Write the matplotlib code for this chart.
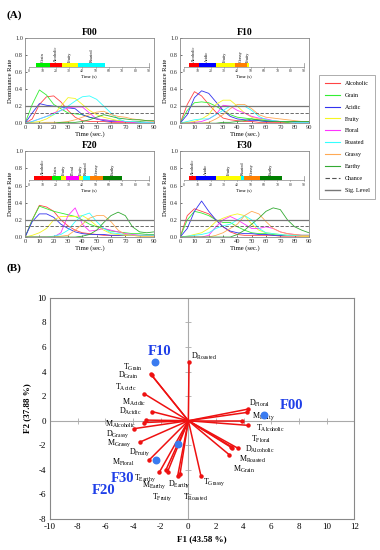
import matplotlib
matplotlib.use('Agg')
import matplotlib.pyplot as plt
from matplotlib.lines import Line2D
import numpy as np

plt.rcParams['font.family'] = 'Liberation Serif'
plt.rcParams['mathtext.fontset'] = 'custom'
plt.rcParams['mathtext.rm'] = 'Liberation Serif'
plt.rcParams['mathtext.it'] = 'Liberation Serif:italic'
plt.rcParams['mathtext.bf'] = 'Liberation Serif:bold'
plt.rcParams['axes.unicode_minus'] = False

# ---------- data: panel A (TDS curves) ----------
times = [0, 5, 10, 15, 20, 25, 30, 35, 40, 45, 50, 55, 60, 65, 70, 75, 80, 85, 90]
attributes = ['Alcoholic', 'Grain', 'Acidic', 'Fruity', 'Floral', 'Roasted', 'Grassy', 'Earthy']
chance_level = 0.125
sig_level = 0.2

f00 = {
    'Alcoholic': [0, .05, .22, .31, .32, .25, .15, .07, .03, .02, .02, .02, .01, .01, .01, .01, .01, .01, .01],
    'Grain':     [0, .22, .39, .33, .22, .17, .12, .11, .10, .07, .05, .04, .03, .03, .02, .02, .02, .01, .01],
    'Acidic':    [0, .12, .23, .21, .20, .19, .18, .17, .10, .07, .05, .03, .02, .02, .02, .02, .01, .01, .01],
    'Fruity':    [0, .01, .02, .05, .10, .20, .30, .29, .22, .15, .10, .07, .05, .03, .02, .02, .01, .01, .01],
    'Floral':    [0, .02, .05, .08, .12, .15, .18, .19, .19, .12, .05, .04, .03, .02, .02, .01, .01, .01, .01],
    'Roasted':   [0, .02, .05, .08, .10, .15, .20, .26, .31, .32, .28, .20, .12, .05, .02, .02, .01, .01, .01],
    'Grassy':    [0, 0, 0, .01, .01, .01, .02, .04, .07, .10, .13, .14, .10, .08, .07, .05, .04, .03, .02],
    'Earthy':    [0, 0, 0, 0, 0, .01, .01, .01, .02, .04, .07, .10, .08, .06, .05, .04, .04, .03, .03],
}
f10 = {
    'Alcoholic': [0, .22, .37, .32, .22, .13, .06, .04, .03, .02, .02, .01, .01, .01, .01, .01, .01, .01, .01],
    'Grain':     [0, .15, .24, .25, .24, .20, .15, .10, .07, .06, .05, .03, .02, .02, .02, .01, .01, .01, .01],
    'Acidic':    [0, .10, .30, .38, .35, .25, .15, .08, .05, .04, .03, .03, .02, .02, .02, .02, .02, .02, .02],
    'Fruity':    [0, .01, .02, .05, .10, .22, .27, .27, .20, .12, .07, .05, .04, .03, .02, .02, .01, .01, .01],
    'Floral':    [0, 0, .01, .02, .05, .10, .21, .20, .15, .12, .08, .06, .05, .03, .02, .02, .01, .01, .01],
    'Roasted':   [0, .02, .04, .05, .05, .10, .15, .20, .20, .20, .15, .08, .04, .03, .02, .02, .01, .01, .01],
    'Grassy':    [0, 0, 0, 0, .01, .05, .10, .17, .22, .22, .17, .10, .07, .06, .05, .04, .03, .02, .02],
    'Earthy':    [0, 0, 0, 0, 0, 0, .01, .01, .02, .03, .05, .04, .03, .02, .02, .02, .02, .02, .02],
}
f20 = {
    'Alcoholic': [0, .20, .37, .35, .30, .20, .13, .08, .05, .04, .03, .02, .02, .02, .02, .02, .02, .02, .02],
    'Grain':     [0, .20, .36, .33, .30, .28, .26, .24, .20, .15, .12, .10, .07, .06, .05, .04, .04, .03, .03],
    'Acidic':    [0, .18, .27, .27, .23, .15, .10, .06, .04, .03, .03, .03, .02, .02, .02, .02, .02, .02, .02],
    'Fruity':    [0, .02, .05, .10, .20, .24, .24, .24, .25, .20, .13, .08, .04, .03, .02, .02, .01, .01, .01],
    'Floral':    [0, 0, 0, 0, 0, .05, .25, .34, .15, .07, .08, .10, .08, .06, .04, .03, .02, .02, .02],
    'Roasted':   [0, 0, 0, 0, .01, .03, .08, .18, .25, .28, .18, .10, .05, .04, .03, .02, .02, .02, .02],
    'Grassy':    [0, 0, 0, 0, 0, .01, .02, .08, .15, .22, .25, .25, .18, .08, .03, .02, .01, .01, .01],
    'Earthy':    [0, 0, 0, 0, 0, 0, 0, 0, .01, .03, .08, .17, .25, .29, .25, .12, .06, .05, .06],
}
f30 = {
    'Alcoholic': [0, .25, .33, .30, .27, .20, .12, .06, .03, .02, .02, .02, .02, .02, .01, .01, .01, .01, .01],
    'Grain':     [0, .20, .30, .28, .25, .20, .17, .17, .12, .08, .05, .04, .04, .03, .02, .02, .02, .02, .02],
    'Acidic':    [0, .10, .30, .42, .30, .20, .12, .07, .05, .04, .04, .03, .03, .02, .02, .02, .02, .02, .02],
    'Fruity':    [0, .01, .03, .05, .10, .18, .22, .25, .27, .25, .15, .08, .05, .04, .03, .02, .02, .01, .01],
    'Floral':    [0, 0, 0, 0, .02, .12, .20, .24, .20, .15, .10, .10, .12, .10, .06, .04, .03, .02, .02],
    'Roasted':   [0, .01, .02, .03, .05, .10, .13, .15, .20, .25, .20, .10, .05, .04, .03, .02, .02, .02, .02],
    'Grassy':    [0, 0, 0, 0, 0, .02, .05, .10, .15, .25, .30, .27, .18, .10, .06, .04, .03, .02, .02],
    'Earthy':    [0, 0, 0, 0, 0, 0, 0, 0, .03, .08, .15, .22, .30, .34, .32, .20, .12, .08, .05],
}

# dominant attribute bands (start, end, attribute)
f00_bands = [(5, 16, 'Grain'), (16, 25, 'Alcoholic'), (25, 37, 'Fruity'), (37, 57, 'Roasted')]
f10_bands = [(4, 11, 'Alcoholic'), (11, 24, 'Acidic'), (24, 38, 'Fruity'), (38, 47, 'Grassy'),
             (47, 49, 'Fruity')]
f20_bands = [(4, 17, 'Alcoholic'), (17, 24, 'Grain'), (24, 28, 'Fruity'), (28, 37.5, 'Floral'),
             (37.5, 40.5, 'Fruity'), (40.5, 45.5, 'Roasted'), (45.5, 56, 'Grassy'), (56, 70, 'Earthy')]
f30_bands = [(4, 9, 'Alcoholic'), (9, 24, 'Acidic'), (24, 43, 'Fruity'), (43, 45, 'Roasted'),
             (45, 57, 'Grassy'), (57, 74, 'Earthy')]

# ---------- data: panel B (PCA biplot) ----------
vec_names = ['D_Roasted', 'T_Grain', 'D_Grain', 'T_Acidic', 'M_Acidic', 'D_Acidic', 'M_Alcoholic',
             'D_Grassy', 'M_Grassy', 'D_Fruity', 'M_Floral', 'T_Earthy', 'M_Earthy', 'T_Fruity',
             'D_Earthy', 'T_Roasted', 'T_Grassy', 'D_Floral', 'M_Fruity', 'T_Alcoholic', 'T_Floral',
             'D_Alcoholic', 'M_Roasted', 'M_Grain']
vec_x = [0.05, -2.72, -2.65, -3.2, -2.65, -3.05, -3.2, -3.95, -3.5, -2.82, 3.1, -2.1, -1.64, -1.5,
         -0.77, -0.6, 0.92, 4.35, 4.27, 4.34, 3.9, 3.57, 3.18, 2.96]
vec_y = [4.75, 3.8, 3.7, 2.2, 0.75, 0.05, -0.15, -0.65, -1.74, -3.18, -2.1, -4.2, -4.05, -4.15,
         -4.48, -4.32, -4.53, 0.95, 0.68, -0.38, 0.0, -2.23, -2.23, -2.77]
lab_x = [0.17, -4.7, -5.06, -5.3, -4.82, -5.0, -6.02, -5.95, -5.86, -4.27, -5.54, -3.93, -3.37, -2.65,
         -1.45, -0.36, 1.08, 4.41, 4.58, 4.89, 4.5, 4.1, 3.69, 3.2]
lab_y = [5.2, 4.37, 3.7, 2.74, 1.52, 0.76, -0.27, -1.06, -1.82, -2.52, -3.39, -4.67, -5.21, -6.22,
         -5.13, -6.22, -5.02, 1.44, 0.41, -0.6, -1.49, -2.36, -3.18, -3.94]

obs_names = ['F00', 'F10', 'F20', 'F30']
obs_x = [5.47, -2.41, -2.36, -0.77]
obs_y = [0.43, 4.75, -3.23, -1.87]
obs_lab_x = [7.47, -2.05, -6.14, -4.77]
obs_lab_y = [1.22, 5.65, -5.7, -4.67]

# ---------- styles ----------
line_colors = {'Alcoholic': '#ff4444', 'Grain': '#33ee33', 'Acidic': '#3333ee', 'Fruity': '#f5f522',
               'Floral': '#ff33ff', 'Roasted': '#33ffff', 'Grassy': '#ffaa55', 'Earthy': '#33aa33'}
band_colors = {'Alcoholic': '#ff0000', 'Grain': '#00ee00', 'Acidic': '#0000ff', 'Fruity': '#ffff00',
               'Floral': '#ff00ff', 'Roasted': '#00ffff', 'Grassy': '#ff8000', 'Earthy': '#008000'}
gray = '#888888'

fig = plt.figure(figsize=(3.8, 5.5), dpi=100)

panels = [('F00', f00, f00_bands, [0.066, 0.776, 0.339, 0.155]),
          ('F10', f10, f10_bands, [0.474, 0.776, 0.339, 0.155]),
          ('F20', f20, f20_bands, [0.066, 0.569, 0.339, 0.156]),
          ('F30', f30, f30_bands, [0.474, 0.569, 0.339, 0.156])]

for name, curves, bands, pos in panels:
    ax = fig.add_axes(pos)
    for attr in attributes:
        ax.plot(times, curves[attr], color=line_colors[attr], lw=0.6, label=attr)
    ax.axhline(chance_level, color='#555555', lw=0.6, ls=(0, (4, 2)), label='Chance')
    ax.axhline(sig_level, color='#777777', lw=0.9, label='Sig. Level')
    ax.set_xlim(0, 90)
    ax.set_ylim(0, 1)
    ax.set_xticks(range(0, 91, 10))
    ax.set_yticks(np.arange(0, 1.01, 0.2))
    ax.set_yticklabels(['0.0', '0.2', '0.4', '0.6', '0.8', '1.0'])
    ax.tick_params(labelsize=4.6, length=1.5, width=0.5, direction='in', pad=1.5, colors='#333333')
    for s in ax.spines.values():
        s.set_color(gray)
        s.set_linewidth(0.6)
    ax.set_title(name, fontsize=7, fontweight='bold', pad=2)
    ax.set_xlabel('Time (sec.)', fontsize=4.8, labelpad=1)
    ax.set_ylabel('Dominance Rate', fontsize=4.8, labelpad=1.5)

    # dominant attribute band with its own time axis
    ins = ax.inset_axes([0.03, 0.665, 0.93, 0.045])
    for start, end, attr in bands:
        ins.barh(0.5, end - start, left=start, height=1, color=band_colors[attr], lw=0)
        ins.text((start + end) / 2, 1.3, attr, rotation=90, fontsize=3.1, ha='center', va='bottom')
    ins.set_xlim(0, 90)
    ins.set_ylim(0, 1)
    ins.patch.set_alpha(0)
    for k in ['top', 'left']:
        ins.spines[k].set_visible(False)
    ins.spines['bottom'].set_color(gray)
    ins.spines['bottom'].set_linewidth(0.5)
    ins.spines['right'].set_color(gray)
    ins.spines['right'].set_linewidth(0.5)
    ins.set_yticks([])
    ins.set_xticks(range(0, 91, 10))
    ins.tick_params(labelsize=2.8, length=1, width=0.4, pad=1, colors='#333333')
    ins.set_xlabel('Time (s)', fontsize=3.3, labelpad=0.8)

handles = [Line2D([], [], color=line_colors[a], lw=0.8) for a in attributes]
handles += [Line2D([], [], color='#555555', lw=0.8, ls=(0, (4, 2))),
            Line2D([], [], color='#777777', lw=1.0)]
leg = fig.legend(handles, attributes + ['Chance', 'Sig. Level'], loc='upper left',
                 bbox_to_anchor=(0.839, 0.864), fontsize=4.3, labelspacing=1.12, handlelength=2.6,
                 handletextpad=0.7, borderpad=1.0, borderaxespad=0, fancybox=False, edgecolor=gray)
leg.get_frame().set_linewidth(0.6)

fig.text(0.018, 0.982, '(A)', fontsize=8, fontweight='bold', va='top')
fig.text(0.018, 0.513, '(B)', fontsize=8, fontweight='bold', va='center')

# ---------- panel B ----------
axb = fig.add_axes([0.132, 0.0564, 0.8, 0.402])
axb.set_xlim(-10, 12)
axb.set_ylim(-8, 10)
xt = list(range(-10, 13, 2))
yt = list(range(-8, 11, 2))
axb.set_xticks(xt)
axb.set_yticks(yt)
axb.tick_params(labelsize=6.5, length=0, pad=3)
for s in axb.spines.values():
    s.set_color(gray)
    s.set_linewidth(0.8)
axb.axhline(0, color='#aaaaaa', lw=0.8, zorder=1)
axb.axvline(0, color='#aaaaaa', lw=0.8, zorder=1)
axb.plot([v for v in xt if v != 0], [0] * (len(xt) - 1), ls='none', marker='|', ms=4,
         mew=0.6, color='#aaaaaa', zorder=1)
axb.plot([0] * (len(yt) - 1), [v for v in yt if v != 0], ls='none', marker='_', ms=4,
         mew=0.6, color='#aaaaaa', zorder=1)

for name, x, y, lx, ly in zip(vec_names, vec_x, vec_y, lab_x, lab_y):
    axb.plot([0, x], [0, y], color='#ee1111', lw=1.1, zorder=2)
    axb.plot(x, y, 'o', color='#ee1111', ms=2.2, zorder=3)
    m, attr = name.split('_')
    axb.text(lx, ly, m + r'$_{\mathrm{' + attr + '}}$', fontsize=5.8, ha='left', va='center')

axb.scatter(obs_x, obs_y, s=22, color='#3a7bf0', zorder=4)
for name, lx, ly in zip(obs_names, obs_lab_x, obs_lab_y):
    axb.text(lx, ly, name, fontsize=10.5, fontweight='bold', color='#1f3fe8', ha='center', va='center')

axb.set_xlabel('F1 (43.58 %)', fontsize=6.5, fontweight='bold', labelpad=3)
axb.set_ylabel('F2 (37.88 %)', fontsize=6.5, fontweight='bold', labelpad=4)

fig.savefig('out.png', dpi=100)
